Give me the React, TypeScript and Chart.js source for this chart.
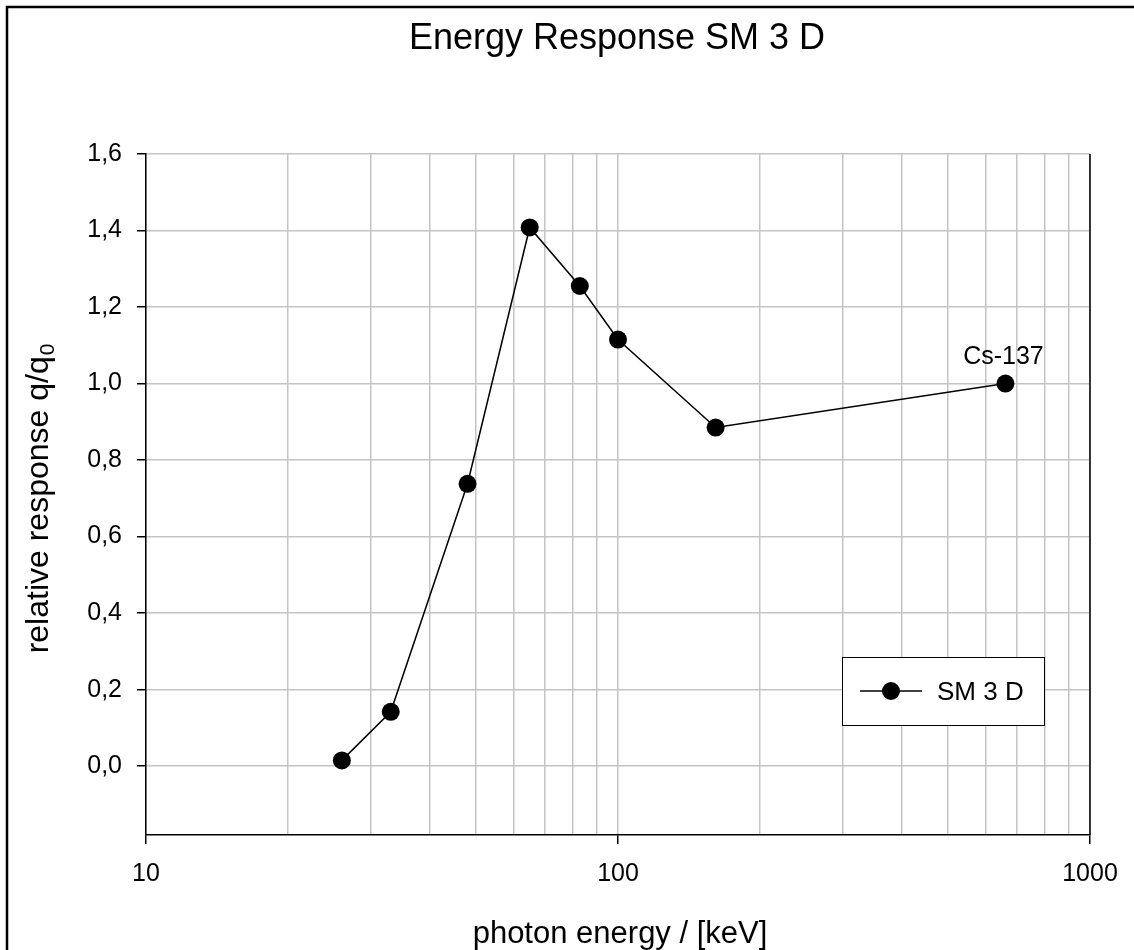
import React, { useEffect, useRef } from "react";
import { Chart, registerables } from "chart.js";

Chart.register(...registerables);

const energies = [26, 33, 48, 65, 83, 100, 161, 662];
const responses = [0.015, 0.142, 0.738, 1.408, 1.255, 1.115, 0.885, 1.0];
const xGridValues = [10, 20, 30, 40, 50, 60, 70, 80, 90, 100, 200, 300, 400, 500, 600, 700, 800, 900, 1000];
const xLabelValues = [10, 100, 1000];
const yTickValues = [0, 0.2, 0.4, 0.6, 0.8, 1.0, 1.2, 1.4, 1.6];
const seriesName = "SM 3 D";
const chartTitle = "Energy Response SM 3 D";
const xTitle = "photon energy / [keV]";
const yTitleMain = "relative response q/q";
const yTitleSub = "0";
const annotationText = "Cs-137";
const annotationEnergy = 662;
const annotationResponse = 1.0;

const FONT = "'Liberation Sans', Arial, sans-serif";

const decorPlugin = {
  id: "decor",
  afterDraw(chart: any) {
    const ctx = chart.ctx;
    const area = chart.chartArea;
    const xs = chart.scales.x;
    const ys = chart.scales.y;
    ctx.save();
    // outer frame (top & left visible)
    ctx.strokeStyle = "#000";
    ctx.lineWidth = 2.5;
    ctx.beginPath();
    ctx.moveTo(7, 960);
    ctx.lineTo(7, 7);
    ctx.lineTo(1140, 7);
    ctx.stroke();
    // right edge of plot
    ctx.lineWidth = 1.5;
    ctx.beginPath();
    ctx.moveTo(area.right, area.top);
    ctx.lineTo(area.right, area.bottom);
    ctx.stroke();

    ctx.fillStyle = "#000";
    const cx = (area.left + area.right) / 2;
    // title
    ctx.font = `36px ${FONT}`;
    ctx.textAlign = "center";
    ctx.textBaseline = "alphabetic";
    ctx.fillText(chartTitle, cx - 1, 49);

    // x title
    ctx.font = `31px ${FONT}`;
    ctx.fillText(xTitle, cx + 2, 943);

    // y title with subscript
    ctx.save();
    ctx.translate(48, 499);
    ctx.rotate(-Math.PI / 2);
    ctx.font = `32px ${FONT}`;
    const mainW = ctx.measureText(yTitleMain).width;
    ctx.font = `21px ${FONT}`;
    const subW = ctx.measureText(yTitleSub).width;
    const total = mainW + subW;
    ctx.textAlign = "left";
    ctx.font = `32px ${FONT}`;
    ctx.fillText(yTitleMain, -total / 2, 0);
    ctx.font = `21px ${FONT}`;
    ctx.fillText(yTitleSub, -total / 2 + mainW + 1, 6);
    ctx.restore();

    // annotation
    ctx.font = `25px ${FONT}`;
    ctx.textAlign = "center";
    ctx.fillText(
      annotationText,
      xs.getPixelForValue(annotationEnergy) - 2,
      ys.getPixelForValue(annotationResponse) - 20
    );

    // legend
    const lx = 842, ly = 657, lw = 202, lh = 68;
    ctx.fillStyle = "#fff";
    ctx.fillRect(lx, ly, lw, lh);
    ctx.strokeStyle = "#000";
    ctx.lineWidth = 1;
    ctx.strokeRect(lx + 0.5, ly + 0.5, lw, lh);
    const cy = ly + lh / 2;
    ctx.lineWidth = 1.5;
    ctx.beginPath();
    ctx.moveTo(860, cy);
    ctx.lineTo(922, cy);
    ctx.stroke();
    ctx.fillStyle = "#000";
    ctx.beginPath();
    ctx.arc(891, cy, 9, 0, Math.PI * 2);
    ctx.fill();
    ctx.font = `26px ${FONT}`;
    ctx.textAlign = "left";
    ctx.textBaseline = "alphabetic";
    ctx.fillText(seriesName, 937, 700);
    ctx.restore();
  },
};

export default function App() {
  const ref = useRef<HTMLCanvasElement | null>(null);
  useEffect(() => {
    if (!ref.current) return;
    const fmt = (v: number) => v.toFixed(1).replace(".", ",");
    const chart = new Chart(ref.current, {
      type: "line",
      data: {
        datasets: [
          {
            label: seriesName,
            data: energies.map((e, i) => ({ x: e, y: responses[i] })),
            borderColor: "#000",
            borderWidth: 1.5,
            pointRadius: 9,
            pointBackgroundColor: "#000",
            pointBorderWidth: 0,
            tension: 0,
          },
        ],
      },
      options: {
        responsive: false,
        animation: false,
        layout: { padding: { top: 154, left: 0, right: 44, bottom: 0 } },
        plugins: { legend: { display: false }, title: { display: false }, tooltip: { enabled: false } },
        scales: {
          x: {
            type: "logarithmic",
            min: 10,
            max: 1000,
            afterFit: (s: any) => { s.height = 115; },
            afterBuildTicks: (s: any) => { s.ticks = xGridValues.map((v) => ({ value: v, major: xLabelValues.includes(v) })); },
            grid: {
              color: "#c4c4c4",
              lineWidth: 1.5,
              tickLength: 9,
              tickWidth: 1.5,
              tickColor: (c: any) => (c.tick && xLabelValues.includes(c.tick.value) ? "#000" : "rgba(0,0,0,0)"),
            },
            border: { color: "#000", width: 1.5 },
            ticks: {
              autoSkip: false,
              maxRotation: 0,
              padding: 15,
              color: "#000",
              font: { family: FONT, size: 25 },
              callback: (v: any) => (xLabelValues.includes(Number(v)) ? String(v) : ""),
            },
          },
          y: {
            type: "linear",
            min: -0.18,
            max: 1.6,
            afterFit: (s: any) => { s.width = 146; },
            afterBuildTicks: (s: any) => { s.ticks = yTickValues.map((v) => ({ value: v })); },
            grid: { color: "#c4c4c4", lineWidth: 1.5, tickLength: 9, tickWidth: 1.5, tickColor: "#000" },
            border: { color: "#000", width: 1.5 },
            ticks: {
              padding: 15,
              color: "#000",
              font: { family: FONT, size: 25 },
              callback: (v: any) => fmt(Number(v)),
            },
          },
        },
      },
      plugins: [decorPlugin],
    } as any);
    return () => chart.destroy();
  }, []);
  return (
    <div style={{ position: "absolute", left: 0, top: 0, width: 1134, height: 950, background: "#fff" }}>
      <canvas ref={ref} width={1134} height={950} style={{ display: "block" }} />
    </div>
  );
}
